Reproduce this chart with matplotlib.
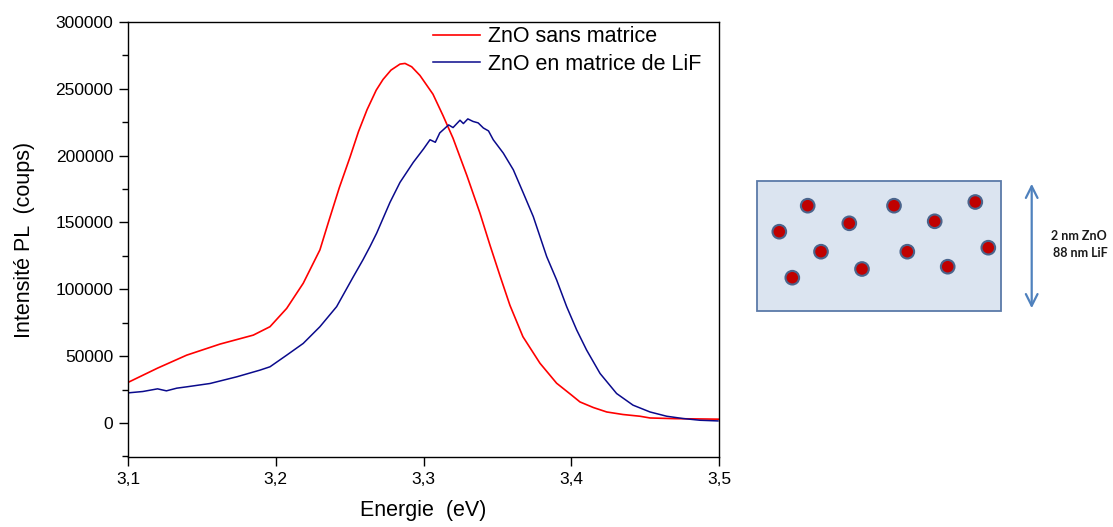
import matplotlib
matplotlib.use("Agg")
import matplotlib.pyplot as plt
from matplotlib.ticker import MultipleLocator, FuncFormatter
from matplotlib.patches import Rectangle, Circle, FancyArrowPatch

# ---------------- data ----------------
energy_red = [3.1000, 3.1200, 3.1397, 3.1623, 3.1848, 3.1961, 3.2074, 3.2186, 3.2299,
              3.2356, 3.2430, 3.2503, 3.2560, 3.2618, 3.2680, 3.2726, 3.2780, 3.2841,
              3.2875, 3.2920, 3.2976, 3.3064, 3.3132, 3.3200, 3.3294, 3.3382, 3.3450,
              3.3518, 3.3585, 3.3673, 3.3788, 3.3901, 3.4000, 3.4059, 3.4150, 3.4240,
              3.4350, 3.4465, 3.4533, 3.4700, 3.5000]
counts_red = [30300, 41000, 50700, 59000, 65700, 72000, 85700, 104500, 129500,
              150000, 176000, 199000, 218000, 234400, 249000, 257000, 264000, 268500,
              269000, 266500, 260000, 246000, 230000, 213000, 185000, 157000, 133000,
              110000, 88000, 64500, 44700, 29700, 21000, 15700, 11500, 8200,
              6300, 5000, 3700, 3200, 2800]

energy_blue = [3.1002, 3.1100, 3.1200, 3.1260, 3.1330, 3.1397, 3.1555, 3.1736, 3.1893,
               3.1961, 3.2074, 3.2186, 3.2299, 3.2412, 3.2525, 3.2590, 3.2638, 3.2683,
               3.2726, 3.2773, 3.2841, 3.2931, 3.3000, 3.3044, 3.3080, 3.3110, 3.3134,
               3.3170, 3.3200, 3.3247, 3.3270, 3.3300, 3.3335, 3.3370, 3.3405, 3.3440,
               3.3472, 3.3540, 3.3608, 3.3676, 3.3743, 3.3834, 3.3901, 3.3969, 3.4037,
               3.4104, 3.4195, 3.4307, 3.4418, 3.4533, 3.4646, 3.4756, 3.4871, 3.4993]
counts_blue = [22500, 23500, 25500, 24000, 26000, 27000, 29500, 34500, 39500,
               42000, 50700, 59500, 72000, 87000, 109400, 122000, 132000, 142000,
               153000, 165000, 180000, 195000, 205000, 211900, 210000, 217000, 219400,
               223000, 221000, 226500, 224000, 227500, 225600, 224500, 220700, 218500,
               211900, 201900, 189400, 171900, 154400, 124400, 107000, 87000, 69500,
               54500, 37000, 22000, 13300, 8200, 5000, 3300, 2000, 1500]

label_red = "ZnO sans matrice"
label_blue = "ZnO en matrice de LiF"
xlabel = "Energie  (eV)"
ylabel = "Intensité PL  (coups)"
xticks = [3.1, 3.2, 3.3, 3.4, 3.5]
yticks = [0, 50000, 100000, 150000, 200000, 250000, 300000]

# diagram (pixel layout of the schematic on the right)
dot_x = [807.7, 779.3, 792.3, 821.0, 849.3, 862.0, 894.0, 907.3, 934.7, 947.7, 975.3, 988.3]
dot_y = [205.7, 231.7, 277.7, 251.7, 223.3, 269.0, 205.7, 251.7, 221.3, 266.7, 202.0, 247.7]
diagram_text = ["2 nm ZnO", "88 nm LiF"]

# ---------------- figure ----------------
plt.rcParams['font.family'] = ['Liberation Sans', 'DejaVu Sans']
W, H = 1113, 527
fig = plt.figure(figsize=(W / 100, H / 100), dpi=100)

ax = fig.add_axes([128 / W, (H - 457) / H, (719 - 128) / W, (457 - 22) / H])
ax.plot(energy_red, counts_red, color="#ff0000", lw=1.2, label=label_red)
ax.plot(energy_blue, counts_blue, color="#0a0a8c", lw=1.1, label=label_blue)

ax.set_xlim(3.1, 3.5)
ax.set_ylim(-25500, 300000)
ax.set_xticks(xticks)
ax.set_yticks(yticks)
ax.yaxis.set_minor_locator(MultipleLocator(25000))
ax.xaxis.set_major_formatter(FuncFormatter(lambda v, p: f"{v:.1f}".replace(".", ",")))
ax.yaxis.set_major_formatter(FuncFormatter(lambda v, p: f"{int(round(v))}"))
ax.tick_params(axis="both", which="major", direction="out", length=6.5, width=1,
               labelsize=12.5, pad=4, colors="#000000")
ax.tick_params(axis="y", which="minor", direction="out", length=4, width=1)
ax.tick_params(top=False, right=False)
for s in ax.spines.values():
    s.set_linewidth(1.0)
ax.set_xlabel(xlabel, fontsize=15.5, labelpad=10)
ax.set_ylabel(ylabel, fontsize=15.5, labelpad=15)

leg = ax.legend(loc="upper left", bbox_to_anchor=((433 - 128) / 591, 0.99), frameon=False,
                fontsize=15.5, borderpad=0, borderaxespad=0, handlelength=2.2,
                handletextpad=0.35, labelspacing=0.3)

# ---------------- schematic ----------------
dax = fig.add_axes([0, 0, 1, 1])
dax.set_xlim(0, W)
dax.set_ylim(H, 0)
dax.axis("off")
dax.add_patch(Rectangle((757, 181), 244, 130, facecolor="#dbe4f0", edgecolor="#5b7aa8", lw=1.3))
for cx, cy in zip(dot_x, dot_y):
    dax.add_patch(Circle((cx, cy), 6.8, facecolor="#c00000", edgecolor="#4a648c", lw=1.5))
dax.add_patch(FancyArrowPatch((1031.7, 181), (1031.7, 311),
                              arrowstyle="<->,head_length=0.7,head_width=0.35",
                              mutation_scale=12, color="#4f81bd", lw=1.6))
dax.text(1078.5, 236, diagram_text[0], ha="center", va="center", fontsize=9,
         fontweight="bold", family=["Lato", "DejaVu Sans"], color="#1a1a1a")
dax.text(1080.5, 253, diagram_text[1], ha="center", va="center", fontsize=9,
         fontweight="bold", family=["Lato", "DejaVu Sans"], color="#1a1a1a")

fig.savefig("out.png", dpi=100)
